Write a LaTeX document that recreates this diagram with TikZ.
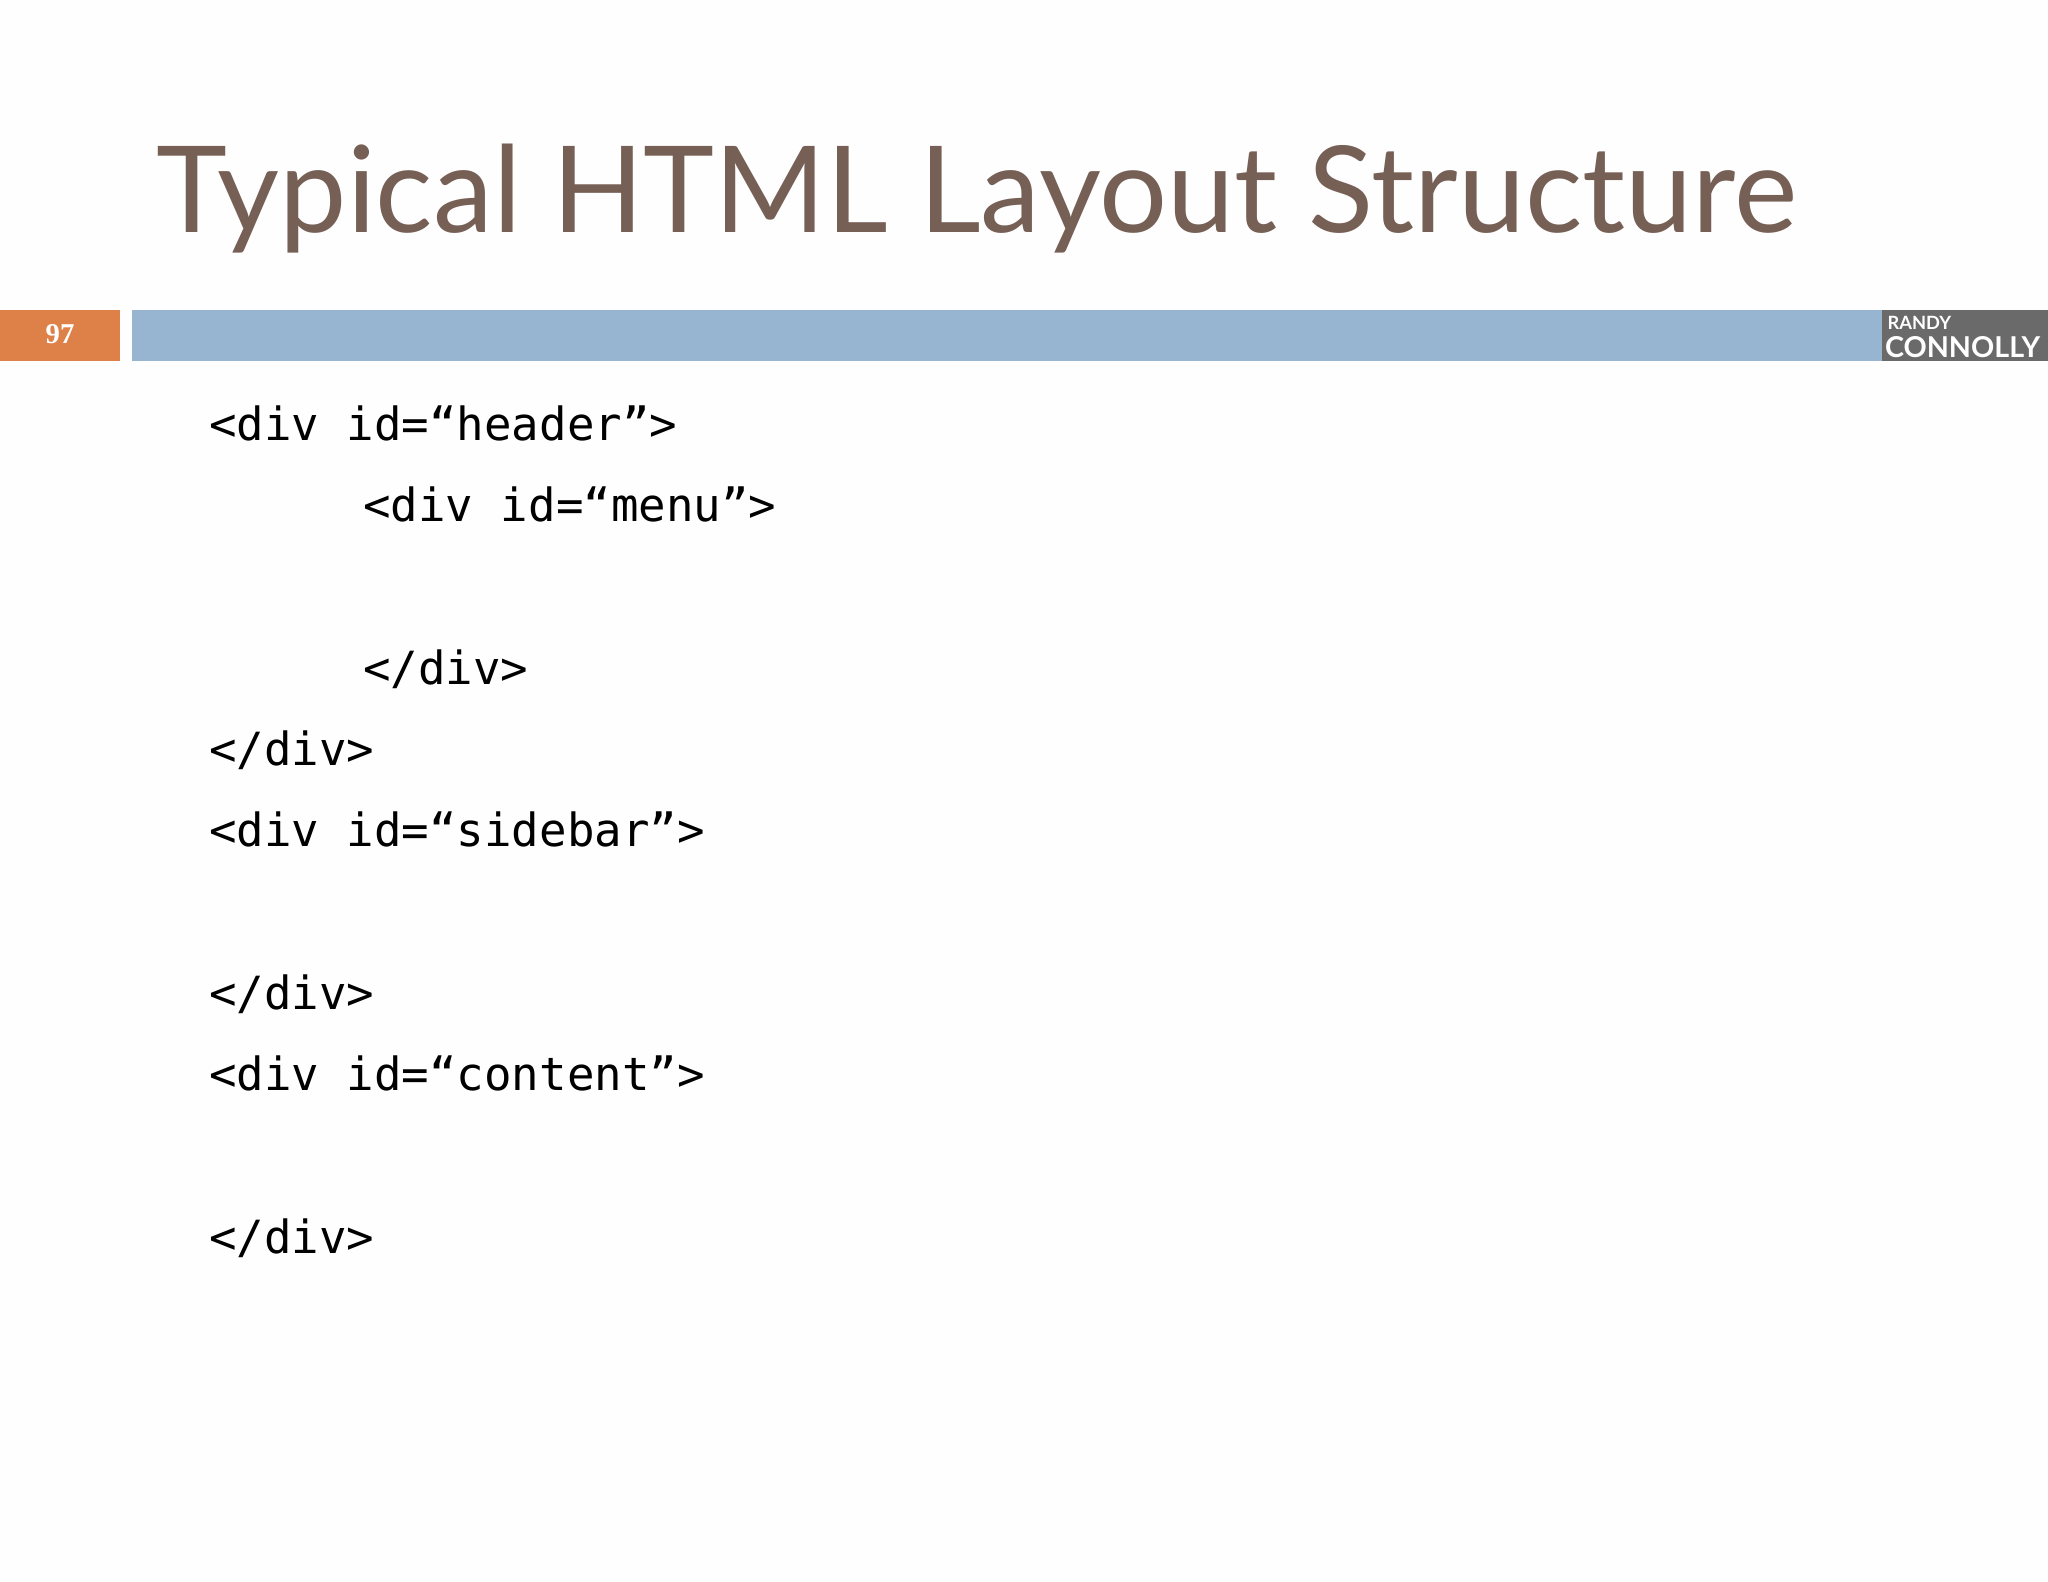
\documentclass[tikz,border=0pt]{standalone}
\usepackage{fontspec}
\setmainfont{Lato}
\newfontfamily\codefont{DejaVu Sans Mono}
\newfontfamily\numfont{Liberation Serif}
\definecolor{titlebrown}{HTML}{765F55}
\definecolor{barblue}{HTML}{97B4D0}
\definecolor{barorange}{HTML}{DE8149}
\definecolor{logogray}{HTML}{6A6A6A}
\begin{document}
\begin{tikzpicture}[x=1pt,y=-1pt,
  code/.style={anchor=base west,inner sep=0pt,font=\codefont\fontsize{35}{40}\selectfont,text=black}]
\useasboundingbox[fill=white!99!gray] (0,0) rectangle (1568,1211);
\node[anchor=base west,inner sep=0pt,text=titlebrown,font=\fontsize{92}{100}\selectfont] (title) at (120,178) {Typical HTML Layout Structure};
\fill[barorange] (0,237) rectangle (92,276);
\fill[barblue] (101,237) rectangle (1568,276);
\node[text=white,font=\numfont\bfseries\fontsize{22}{24}\selectfont] (num) at (46,256) {97};
\fill[logogray] (1441,237) rectangle (1568,276);
\node[anchor=west,inner sep=0pt,text=white,font=\bfseries\fontsize{14}{14}\selectfont] (randy) at (1445,247) {RANDY};
\node[anchor=west,inner sep=0pt,text=white,font=\bfseries\fontsize{22}{22}\selectfont] (conn) at (1443,266) {CONNOLLY};
\node[code] (l1) at (160,337) {<div id=“header”>};
\node[code] (l2) at (278,399) {<div id=“menu”>};
\node[code] (l3) at (278,524) {</div>};
\node[code] (l4) at (160,586) {</div>};
\node[code] (l5) at (160,648) {<div id=“sidebar”>};
\node[code] (l6) at (160,773) {</div>};
\node[code] (l7) at (160,835) {<div id=“content”>};
\node[code] (l8) at (160,960) {</div>};
\end{tikzpicture}
\end{document}
